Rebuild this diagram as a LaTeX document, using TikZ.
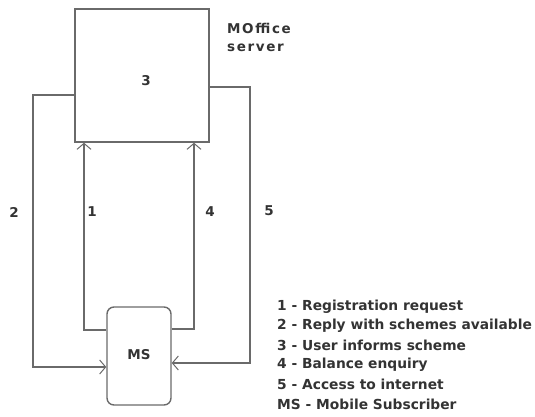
\documentclass[tikz,border=0pt]{standalone}
\usepackage{fontspec}
\setmainfont{DejaVu Sans}
\newfontfamily\widefont[LetterSpace=12]{DejaVu Sans}
\usetikzlibrary{arrows.meta}
\definecolor{ln}{HTML}{6A6A6A}
\definecolor{tx}{HTML}{333333}
\tikzset{
  box/.style={draw=ln, line width=1.4pt, inner sep=0pt},
  conn/.style={draw=ln, line width=1.3pt, -{Straight Barb[length=6pt,width=14pt,line width=1pt]}},
  lab/.style={font=\bfseries\fontsize{13.5}{18}\selectfont, text=tx, inner sep=0pt},
  leg/.style={font=\bfseries\fontsize{13.8}{16}\selectfont, text=tx, inner sep=0pt, anchor=west}
}
\begin{document}
\begin{tikzpicture}[x=1pt,y=-1pt]
\useasboundingbox (0,0) rectangle (535,416);
\node[box, minimum width=134pt, minimum height=133pt] (srv) at (142,75.5) {};
\node[lab] (three) at (146,81) {3};
\node[lab, font=\widefont\bfseries\fontsize{13.5}{18}\selectfont, align=left, anchor=north west] (moff) at (227,23) {MOffice\\server};
\node[box, rounded corners=7pt, minimum width=64pt, minimum height=98pt] (ms) at (139,356) {};
\node[lab] (mslab) at (139,355) {MS};
% connectors
\coordinate (c2a) at (33,95);
\coordinate (c2b) at (33,367);
\draw[conn] (srv.west |- c2a) -- (c2a) -- (c2b) -- (ms.west |- c2b);
\coordinate (c5a) at (250,87);
\coordinate (c5b) at (250,363);
\draw[conn] (srv.east |- c5a) -- (c5a) -- (c5b) -- (ms.east |- c5b);
\coordinate (c1a) at (84,330);
\coordinate (c1b) at (84,142);
\draw[conn] (ms.west |- c1a) -- (c1a) -- (srv.south -| c1b);
\coordinate (c4a) at (194,329);
\coordinate (c4b) at (194,142);
\draw[conn] (ms.east |- c4a) -- (c4a) -- (srv.south -| c4b);
% labels
\node[lab] (l2) at (14,212) {2};
\node[lab] (l1) at (92,212) {1};
\node[lab] (l4) at (210,212) {4};
\node[lab] (l5) at (269,211) {5};
% legend
\node[leg] (g1) at (277,306.5) {1 - Registration request};
\node[leg] (g2) at (277,326) {2 - Reply with schemes available};
\node[leg] (g3) at (277,345.5) {3 - User informs scheme};
\node[leg] (g4) at (277,364.5) {4 - Balance enquiry};
\node[leg] (g5) at (277,384) {5 - Access to internet};
\node[leg] (g6) at (277,404) {MS - Mobile Subscriber};
\end{tikzpicture}
\end{document}
